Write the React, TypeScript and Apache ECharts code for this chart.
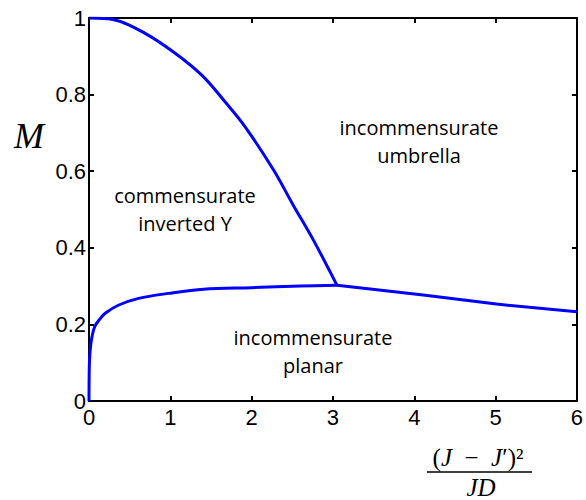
import React, { useEffect, useRef } from "react";
import * as echarts from "echarts";

// Upper boundary: commensurate inverted Y / incommensurate umbrella
const upperX = [0, 0.32, 0.69, 1.06, 1.39, 1.67, 1.92, 2.27, 2.51, 2.76, 3.05];
const upperM = [1, 0.995, 0.96, 0.908, 0.85, 0.782, 0.716, 0.603, 0.512, 0.42, 0.302];

// Lower boundary: commensurate inverted Y / incommensurate planar
const lowerX = [0, 0.003, 0.01, 0.03, 0.07, 0.13, 0.2, 0.36, 0.61, 0.98, 1.41, 2.0, 2.6, 3.05];
const lowerM = [0, 0.08, 0.12, 0.16, 0.194, 0.213, 0.229, 0.25, 0.268, 0.281, 0.292, 0.296, 0.3, 0.302];

// Right boundary: incommensurate umbrella / incommensurate planar
const rightX = [3.05, 4.11, 5.01, 6];
const rightM = [0.302, 0.277, 0.253, 0.233];

const xMin = 0, xMax = 6, xStep = 1;
const yMin = 0, yMax = 1, yStep = 0.2;

const regionLabels = [
  { lines: ["commensurate", "inverted Y"], x: 185, y: 195 },
  { lines: ["incommensurate", "umbrella"], x: 419, y: 127 },
  { lines: ["incommensurate", "planar"], x: 313, y: 337 },
];

const zip = (xs: number[], ys: number[]) => xs.map((x, i) => [x, ys[i]]);

const makeAxis = (min: number, max: number, interval: number, position: string, showLabels: boolean, margin: number) => ({
  type: "value",
  min,
  max,
  interval,
  position,
  axisLine: { show: true, onZero: false, lineStyle: { color: "#000", width: 2 } },
  axisTick: { show: true, inside: true, length: 5, lineStyle: { color: "#000", width: 2 } },
  splitLine: { show: false },
  axisLabel: showLabels
    ? { show: true, color: "#000", fontSize: 22, fontFamily: "Liberation Sans", margin }
    : { show: false },
});

export default function App() {
  const ref = useRef<HTMLDivElement>(null);
  useEffect(() => {
    document.body.style.margin = "0";
    const chart = echarts.init(ref.current!, null, { renderer: "svg" });
    const lineSeries = (data: number[][], smooth: number | boolean) => ({
      type: "line",
      data,
      showSymbol: false,
      symbol: "none",
      smooth,
      lineStyle: { color: "#0000ff", width: 3 },
      z: 3,
    });
    const graphics: any[] = [];
    regionLabels.forEach((r) => {
      r.lines.forEach((t, i) => {
        graphics.push({
          type: "text",
          x: r.x,
          y: r.y + i * 28,
          style: {
            text: t,
            fill: "#000",
            font: "20px 'Open Sans'",
            textAlign: "center",
            textVerticalAlign: "middle",
          },
        });
      });
    });
    graphics.push({
      type: "text",
      x: 29,
      y: 136,
      style: {
        text: "M",
        fill: "#000",
        font: "italic 36px 'Liberation Serif'",
        textAlign: "center",
        textVerticalAlign: "middle",
      },
    });
    graphics.push({
      type: "text",
      x: 478,
      y: 457,
      style: {
        text: "{u|(}{i|J}{u|\u2002−\u2002}{i|J}{u|′)²}",
        textAlign: "center",
        textVerticalAlign: "middle",
        rich: {
          u: { fontFamily: "Liberation Serif", fontSize: 25, fill: "#000" },
          i: { fontFamily: "Liberation Serif", fontStyle: "italic", fontSize: 25, fill: "#000" },
        },
      },
    });
    graphics.push({
      type: "line",
      shape: { x1: 427, y1: 472, x2: 532, y2: 472 },
      style: { stroke: "#000", lineWidth: 1.5 },
    });
    graphics.push({
      type: "text",
      x: 481,
      y: 487,
      style: {
        text: "JD",
        fill: "#000",
        font: "italic 25px 'Liberation Serif'",
        textAlign: "center",
        textVerticalAlign: "middle",
      },
    });

    chart.setOption({
      animation: false,
      backgroundColor: "#fff",
      grid: { left: 89, top: 18, right: 8, bottom: 99, containLabel: false },
      xAxis: [
        makeAxis(xMin, xMax, xStep, "bottom", true, 5),
        makeAxis(xMin, xMax, xStep, "top", false, 5),
      ],
      yAxis: [
        makeAxis(yMin, yMax, yStep, "left", true, 3),
        makeAxis(yMin, yMax, yStep, "right", false, 3),
      ],
      series: [
        lineSeries(zip(upperX, upperM), 0.35),
        lineSeries(zip(lowerX, lowerM), 0.35),
        lineSeries(zip(rightX, rightM), false),
      ],
      graphic: graphics,
    });
    return () => chart.dispose();
  }, []);
  return <div ref={ref} style={{ width: 586, height: 500, position: "absolute", left: 0, top: 0 }} />;
}
